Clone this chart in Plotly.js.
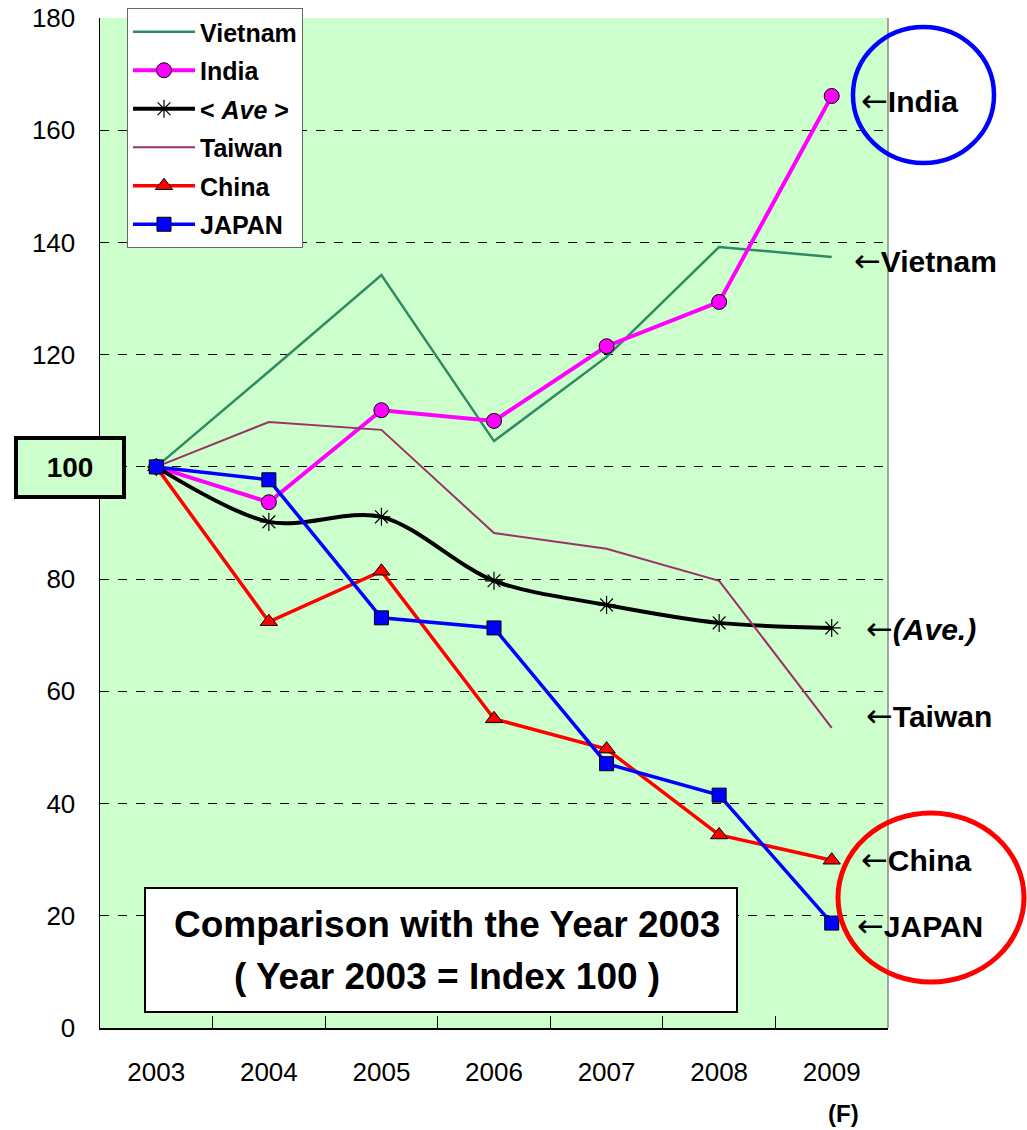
<!DOCTYPE html>
<html>
<head>
<meta charset="utf-8">
<script src="https://cdn.plot.ly/plotly-3.0.1.min.js"></script>
<style>html,body{margin:0;padding:0;background:#fff}#chart{width:1027px;height:1130px}</style>
</head>
<body>
<div id="chart"></div>
<script>
var years = ['2003','2004','2005','2006','2007','2008','2009'];
var vietnam = [100, 117, 134.2, 104.6, 119.6, 139.2, 137.4];
var india   = [100, 93.7, 110.1, 108.2, 121.5, 129.4, 166.1];
var ave     = [100, 90.2, 91.1, 79.7, 75.4, 72.2, 71.3];
var taiwan  = [100, 108, 106.6, 88.2, 85.4, 79.7, 53.5];
var china   = [100, 72.4, 81.4, 55.1, 49.7, 34.4, 29.9];
var japan   = [100, 97.7, 73.1, 71.3, 47.1, 41.5, 18.7];
var names = ['Vietnam', 'India', '&lt; <i>Ave</i> &gt;', 'Taiwan', 'China', 'JAPAN'];
var yTickVals = [0, 20, 40, 60, 80, 100, 120, 140, 160, 180];
var yTickText = ['0', '20', '40', '60', '80', '', '120', '140', '160', '180'];

// pixel -> paper helpers (plot area 100..888 x, 18..1028 y)
function PX(p){ return (p - 100) / 788; }
function PY(p){ return (1028 - p) / 1010; }

var traces = [
  {x: years, y: vietnam, name: names[0], legendgroup: 'a', mode: 'lines',
   line: {color: '#2e8b60', width: 2.5}},
  {x: years, y: india, name: names[1], legendgroup: 'b', mode: 'lines+markers',
   line: {color: '#ff00ff', width: 4},
   marker: {symbol: 'circle', size: 15, color: '#ff00ff', line: {color: '#000', width: 1}}},
  {x: years, y: ave, name: names[2], legendgroup: 'c', mode: 'lines+markers',
   line: {color: '#000', width: 4, shape: 'spline', smoothing: 0.9},
   marker: {symbol: 'asterisk-open', size: 15, color: '#000', line: {color: '#000', width: 1.2}}},
  {x: years, y: taiwan, name: names[3], legendgroup: 'd', mode: 'lines',
   line: {color: '#993366', width: 2}},
  {x: years, y: china, name: names[4], legendgroup: 'e', mode: 'lines+markers',
   line: {color: '#ff0000', width: 3.5},
   marker: {symbol: 'triangle-up', size: 15, color: '#ff0000', line: {color: '#000', width: 1}}},
  {x: years, y: japan, name: names[5], legendgroup: 'f', mode: 'lines+markers',
   line: {color: '#0000ff', width: 3.5},
   marker: {symbol: 'square', size: 14, color: '#0000ff', line: {color: '#000', width: 1}}}
];

var ARROW = '<span style="font-family:DejaVu Sans;font-weight:normal;font-size:32px">←</span>';
function lab(text, left, cy){
  return {xref: 'paper', yref: 'paper', x: PX(left), y: PY(cy), xanchor: 'left', yanchor: 'middle',
    text: ARROW + text, showarrow: false,
    font: {size: 30, color: '#000', family: 'Liberation Sans, Arial, sans-serif'}};
}

var annotations = [
  lab('<b>India</b>', 859, 101),
  lab('<b>Vietnam</b>', 852, 261),
  lab('<b><i>(Ave.)</i></b>', 864, 629),
  lab('<b>Taiwan</b>', 864, 716),
  lab('<b>China</b>', 859, 860),
  lab('<b>JAPAN</b>', 855, 926),
  {xref: 'paper', yref: 'paper', x: PX(70), y: PY(468), xanchor: 'center', yanchor: 'middle',
   text: '<b>100</b>', showarrow: false, bgcolor: '#ccffcc', bordercolor: '#000', borderwidth: 4, borderpad: 0,
   width: 104, height: 55, font: {size: 28, color: '#000'}},
  {xref: 'paper', yref: 'paper', x: PX(447), y: PY(924), xanchor: 'center', yanchor: 'middle',
   text: '<b>Comparison with the Year 2003</b>', showarrow: false, font: {size: 37, color: '#000'}},
  {xref: 'paper', yref: 'paper', x: PX(447), y: PY(976), xanchor: 'center', yanchor: 'middle',
   text: '<b>( Year 2003 = Index 100 )</b>', showarrow: false, font: {size: 37, color: '#000'}},
  {xref: 'paper', yref: 'paper', x: PX(843), y: PY(1113), xanchor: 'center', yanchor: 'middle',
   text: '<b>(F)</b>', showarrow: false, font: {size: 24, color: '#000'}}
];

var shapes = [
  {type: 'line', xref: 'paper', yref: 'paper', x0: 1, x1: 1, y0: 0, y1: 1,
   line: {color: '#888', width: 1.5}},
  {type: 'rect', xref: 'paper', yref: 'paper', x0: PX(145), x1: PX(737), y0: PY(1012), y1: PY(888),
   fillcolor: '#fff', line: {color: '#000', width: 2}},
  {type: 'circle', xref: 'paper', yref: 'paper', x0: PX(853), x1: PX(994), y0: PY(163), y1: PY(27),
   line: {color: '#0000ff', width: 4.5}},
  {type: 'circle', xref: 'paper', yref: 'paper', x0: PX(838), x1: PX(1024), y0: PY(982), y1: PY(813),
   line: {color: '#ff0000', width: 5}}
];

var layout = {
  width: 1027, height: 1130,
  margin: {l: 100, r: 139, t: 18, b: 102, autoexpand: false},
  paper_bgcolor: '#fff', plot_bgcolor: '#ccffcc',
  font: {family: 'Liberation Sans, Arial, sans-serif', color: '#000', size: 24},
  showlegend: true,
  legend: {x: PX(127), y: PY(8), xanchor: 'left', yanchor: 'top', bgcolor: '#fff',
    bordercolor: '#666', borderwidth: 1, font: {size: 25, weight: 'bold', color: '#000'},
    traceorder: 'grouped', tracegroupgap: 3, itemwidth: 62},
  xaxis: {type: 'category', range: [-0.5, 6.5], showline: true, linecolor: '#000', linewidth: 2,
    ticks: 'inside', ticklen: 12, tickcolor: '#000', tickwidth: 1, tickson: 'boundaries',
    showgrid: false, zeroline: false, ticklabelstandoff: 20, tickfont: {size: 26}},
  yaxis: {range: [0, 180], tickvals: yTickVals, ticktext: yTickText, showline: true, linecolor: '#000', linewidth: 1.5,
    ticks: '', showgrid: true, gridcolor: '#000', griddash: 'dash', gridwidth: 1, zeroline: false,
    ticklabelstandoff: 18, tickfont: {size: 26}},
  annotations: annotations,
  shapes: shapes
};

Plotly.newPlot('chart', traces, layout, {staticPlot: true});
</script>
</body>
</html>
